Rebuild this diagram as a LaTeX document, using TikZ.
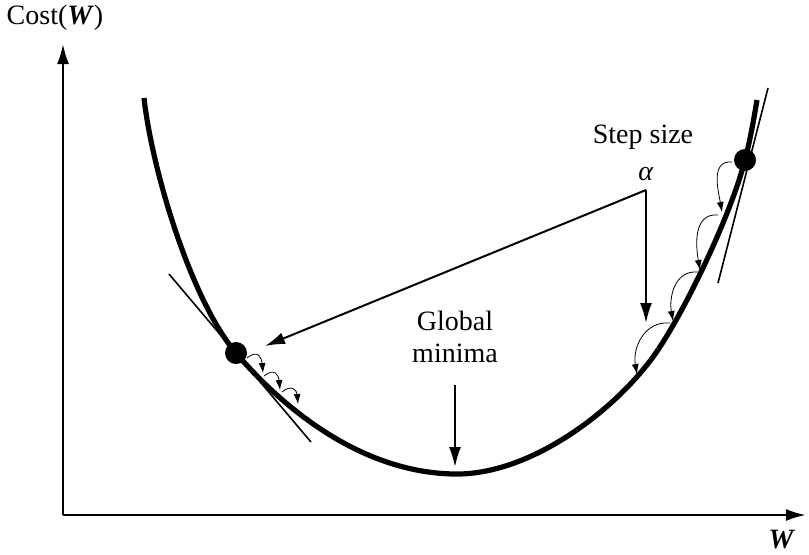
\documentclass[tikz,border=0pt]{standalone}
\usepackage{fontspec}
\setmainfont{Liberation Serif}
\usetikzlibrary{arrows.meta}

\begin{document}
\begin{tikzpicture}[x=0.5pt,y=-0.5pt,>=Latex,
  font=\fontsize{14}{16}\selectfont,
  axis/.style={line width=1.2pt,-{Latex[length=10pt,width=6pt]}},
  pointer/.style={line width=1pt,-{Latex[length=10pt,width=6pt]}},
  hop/.style={line width=0.4pt,-{Latex[length=5pt,width=3.5pt]}},
  tangent/.style={line width=0.8pt},
  dot/.style={circle,fill,inner sep=0pt,minimum size=11pt}]
\useasboundingbox (0,0) rectangle (809,554);
% axes
\coordinate (O) at (63,515);
\coordinate (ytip) at (63,44);
\coordinate (xtip) at (806,515);
\draw[axis] (O) -- (ytip);
\draw[axis] (O) -- (xtip);
\node (ylab) at (55,18) {Cost(\textbf{\textit{W}})};
\node (xlab) at (782,540) {\textbf{\textit{W}}};
% cost curve
\draw[line width=2.6pt] (144,98) .. controls (152,170) and (191,300) .. (236,353)
  .. controls (288,414) and (367,474) .. (457,474)
  .. controls (530,474) and (612,413) .. (653,357)
  .. controls (682,317) and (730,218) .. (745,160)
  .. controls (750,141) and (754,118) .. (757,100);
% start points and tangents
\node[dot] (pL) at (236,353) {};
\node[dot] (pR) at (745,160) {};
\draw[tangent] (169,274) -- (311,442);
\draw[tangent] (768,88) -- (718,283);
% small steps on the left
\foreach \ax/\ay/\bx/\by in {247/358/263/373,264/376/280/390,282/392/298/404}
  \draw[hop] (\ax,\ay) to[out=40,in=95,looseness=1.7] (\bx,\by);
% small steps on the right
\foreach \ax/\ay/\bx/\by in {732/162/722/212,718/215/700/270,698/272/673/321,670/323/637/374}
  \draw[hop] (\ax,\ay) to[out=175,in=100,looseness=1.1] (\bx,\by);
% step size label
\node (step) at (643,137) {Step size};
\node (alpha) at (646,174) {\textit{α}};
\coordinate (corner) at (646,190);
\coordinate (tipL) at (265,346);
\coordinate (tipR) at (646,323);
\draw[pointer] (corner) -- (tipL);
\draw[pointer] (corner) -- (tipR);
% global minima
\node[align=center] (gmin) at (455,337) {Global\\minima};
\coordinate (gtip) at (455,467);
\draw[pointer] (455,385) -- (gtip);
\end{tikzpicture}
\end{document}
